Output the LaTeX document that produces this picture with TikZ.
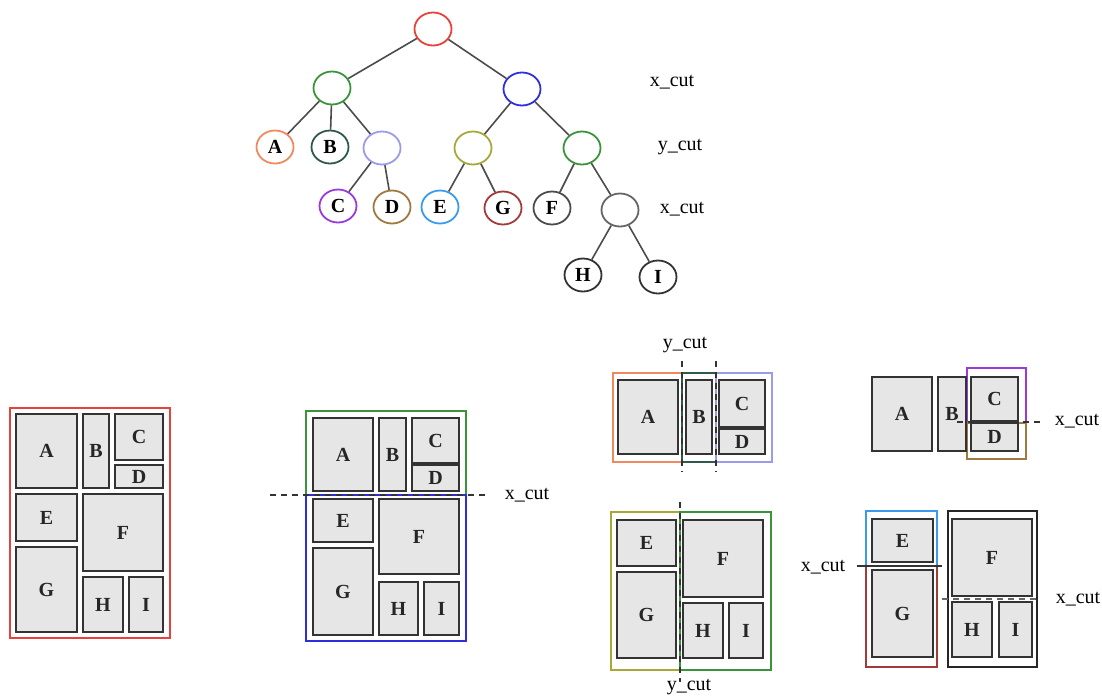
\documentclass[tikz,border=0pt]{standalone}
\usepackage{fontspec}
\setmainfont{Liberation Serif}
\usetikzlibrary{shapes.geometric,fit}
\definecolor{cred}{HTML}{E8413C}
\definecolor{cgreen}{HTML}{3A943A}
\definecolor{cblue}{HTML}{2E2EDD}
\definecolor{corange}{HTML}{F08A5D}
\definecolor{cteal}{HTML}{2F5A4A}
\definecolor{clav}{HTML}{9A9AEE}
\definecolor{colive}{HTML}{A8A838}
\definecolor{cpurple}{HTML}{9A3ADD}
\definecolor{cbrown}{HTML}{A07840}
\definecolor{clblue}{HTML}{3A9AEE}
\definecolor{cdred}{HTML}{A23A3A}
\definecolor{cfill}{HTML}{E6E6E6}
\begin{document}
\begin{tikzpicture}[x=1pt,y=-1pt,
  tn/.style={ellipse, draw, line width=1.8pt, minimum width=37pt, minimum height=33pt, inner sep=0pt, font=\fontsize{20}{22}\selectfont\bfseries},
  edge/.style={draw=black!70, line width=1.6pt},
  blk/.style={draw=black!80, line width=2.2pt, fill=cfill, inner sep=0pt},
  bl/.style={font=\fontsize{20}{22}\selectfont\bfseries, text=black!85, inner sep=0pt},
  reg/.style={draw, line width=1.6pt, inner sep=0pt},
  lbl/.style={font=\fontsize{20}{22}\selectfont, inner sep=0pt},
  cut/.style={draw=black!80, line width=1.4pt, dash pattern=on 6pt off 5pt}]
\useasboundingbox (0,0) rectangle (1102,697);

% ---------------- tree ----------------
\node[tn, draw=cred] (root) at (433,29) {};
\node[tn, draw=cgreen] (L) at (332,88) {};
\node[tn, draw=cblue] (R) at (522,89) {};
\node[tn, draw=corange] (A) at (275,147) {A};
\node[tn, draw=cteal] (B) at (330,147) {B};
\node[tn, draw=clav] (P) at (382,148) {};
\node[tn, draw=colive] (O) at (473,148) {};
\node[tn, draw=cgreen] (Gn) at (582,148) {};
\node[tn, draw=cpurple] (C) at (338,206) {C};
\node[tn, draw=cbrown] (D) at (392,207) {D};
\node[tn, draw=clblue] (E) at (440,207) {E};
\node[tn, draw=cdred] (G) at (503,208) {G};
\node[tn, draw=black!70] (F) at (552,208) {F};
\node[tn, draw=black!60] (W) at (620,210) {};
\node[tn, draw=black!80] (H) at (583,275) {H};
\node[tn, draw=black!80] (I) at (658,277) {I};
\draw[edge] (root) -- (L);
\draw[edge] (root) -- (R);
\draw[edge] (L) -- (A);
\draw[edge] (L) -- (B);
\draw[edge] (L) -- (P);
\draw[edge] (P) -- (C);
\draw[edge] (P) -- (D);
\draw[edge] (R) -- (O);
\draw[edge] (R) -- (Gn);
\draw[edge] (O) -- (E);
\draw[edge] (O) -- (G);
\draw[edge] (Gn) -- (F);
\draw[edge] (Gn) -- (W);
\draw[edge] (W) -- (H);
\draw[edge] (W) -- (I);
\node[lbl] (t1) at (672,82) {x\_cut};
\node[lbl] (t2) at (680,147) {y\_cut};
\node[lbl] (t3) at (682,209) {x\_cut};

% ---------------- floorplan 1 ----------------
\node[reg, draw=cred, fit={(10,408) (170,638)}] (r1) {};
\node[blk, fit={(16,414) (77,488)}, label={[bl]center:A}] (a1) {};
\node[blk, fit={(83,414) (109,488)}, label={[bl]center:B}] (b1) {};
\node[blk, fit={(115,414) (163,460)}, label={[bl]center:C}] (c1) {};
\node[blk, fit={(115,465) (163,488)}, label={[bl]center:D}] (d1) {};
\node[blk, fit={(16,494) (77,541)}, label={[bl]center:E}] (e1) {};
\node[blk, fit={(83,494) (163,571)}, label={[bl]center:F}] (f1) {};
\node[blk, fit={(16,547) (77,632)}, label={[bl]center:G}] (g1) {};
\node[blk, fit={(83,577) (123,632)}, label={[bl]center:H}] (h1) {};
\node[blk, fit={(129,577) (163,632)}, label={[bl]center:I}] (i1) {};

% ---------------- floorplan 2 ----------------
\node[reg, draw=cgreen, fit={(306,411) (466,495)}] (r2a) {};
\node[reg, draw=cblue, fit={(306,495) (466,641)}] (r2b) {};
\node[blk, fit={(313,418) (373,491)}, label={[bl]center:A}] (a2) {};
\node[blk, fit={(379,418) (406,491)}, label={[bl]center:B}] (b2) {};
\node[blk, fit={(412,418) (459,463)}, label={[bl]center:C}] (c2) {};
\node[blk, fit={(412,465) (459,491)}, label={[bl]center:D}] (d2) {};
\node[blk, fit={(313,499) (373,542)}, label={[bl]center:E}] (e2) {};
\node[blk, fit={(379,499) (459,574)}, label={[bl]center:F}] (f2) {};
\node[blk, fit={(313,548) (373,635)}, label={[bl]center:G}] (g2) {};
\node[blk, fit={(379,582) (418,635)}, label={[bl]center:H}] (h2) {};
\node[blk, fit={(424,582) (459,635)}, label={[bl]center:I}] (i2) {};
\coordinate (k2a) at (270,495);
\coordinate (k2b) at (488,495);
\draw[cut] (k2a) -- (k2b);
\node[lbl] (t4) at (527,495) {x\_cut};

% ---------------- group 3 top ----------------
\node[reg, draw=corange, fit={(613,373) (682,462)}] (r3a) {};
\node[reg, draw=cteal, fit={(682,373) (716,462)}] (r3b) {};
\node[reg, draw=clav, fit={(716,373) (772,462)}] (r3c) {};
\node[blk, fit={(618,380) (678,454)}, label={[bl]center:A}] (a3) {};
\node[blk, fit={(686,380) (712,454)}, label={[bl]center:B}] (b3) {};
\node[blk, fit={(719,380) (765,427)}, label={[bl]center:C}] (c3) {};
\node[blk, fit={(719,429) (765,454)}, label={[bl]center:D}] (d3) {};
\coordinate (k3a) at (682,361);
\coordinate (k3b) at (682,472);
\coordinate (k3c) at (716,361);
\coordinate (k3d) at (716,472);
\draw[cut] (k3a) -- (k3b);
\draw[cut] (k3c) -- (k3d);
\node[lbl] (t5) at (685,345) {y\_cut};

% ---------------- group 3 bottom ----------------
\node[reg, draw=colive, fit={(611,512) (680,670)}] (r3d) {};
\node[reg, draw=cgreen, fit={(680,512) (771,670)}] (r3e) {};
\node[blk, fit={(617,520) (676,566)}, label={[bl]center:E}] (e3) {};
\node[blk, fit={(617,572) (676,658)}, label={[bl]center:G}] (g3) {};
\node[blk, fit={(683,520) (763,597)}, label={[bl]center:F}] (f3) {};
\node[blk, fit={(683,603) (723,658)}, label={[bl]center:H}] (h3) {};
\node[blk, fit={(729,603) (763,658)}, label={[bl]center:I}] (i3) {};
\coordinate (k3e) at (680,502);
\coordinate (k3f) at (680,682);
\draw[cut] (k3e) -- (k3f);
\node[lbl] (t6) at (689,687) {y\_cut};

% ---------------- group 4 top ----------------
\node[reg, draw=cpurple, fit={(967,368) (1026,423)}] (r4a) {};
\node[reg, draw=cbrown, fit={(967,423) (1026,459)}] (r4b) {};
\node[blk, fit={(872,377) (932,451)}, label={[bl]center:A}] (a4) {};
\node[blk, fit={(938,377) (966,451)}, label={[bl]center:B}] (b4) {};
\node[blk, fit={(971,377) (1018,421)}, label={[bl]center:C}] (c4) {};
\node[blk, fit={(971,423) (1018,451)}, label={[bl]center:D}] (d4) {};
\coordinate (k4a) at (957,422);
\coordinate (k4b) at (1040,422);
\draw[cut] (k4a) -- (k4b);
\node[lbl] (t7) at (1077,421) {x\_cut};

% ---------------- group 4 bottom ----------------
\node[reg, draw=clblue, fit={(866,511) (937,566)}] (r4c) {};
\node[reg, draw=cdred, fit={(866,566) (937,667)}] (r4d) {};
\node[reg, draw=black!85, fit={(948,511) (1037,667)}] (r4e) {};
\node[blk, fit={(872,519) (933,562)}, label={[bl]center:E}] (e4) {};
\node[blk, fit={(872,570) (933,657)}, label={[bl]center:G}] (g4) {};
\node[blk, fit={(952,519) (1032,596)}, label={[bl]center:F}] (f4) {};
\node[blk, fit={(952,602) (992,657)}, label={[bl]center:H}] (h4) {};
\node[blk, fit={(999,602) (1032,657)}, label={[bl]center:I}] (i4) {};
\coordinate (k4c) at (857,566);
\coordinate (k4d) at (942,566);
\draw[draw=black!80, line width=1.6pt] (k4c) -- (k4d);
\node[lbl] (t8) at (823,567) {x\_cut};
\coordinate (k4e) at (942,599);
\coordinate (k4f) at (1040,599);
\draw[cut, draw=black!60] (k4e) -- (k4f);
\node[lbl] (t9) at (1078,599) {x\_cut};
\end{tikzpicture}
\end{document}
